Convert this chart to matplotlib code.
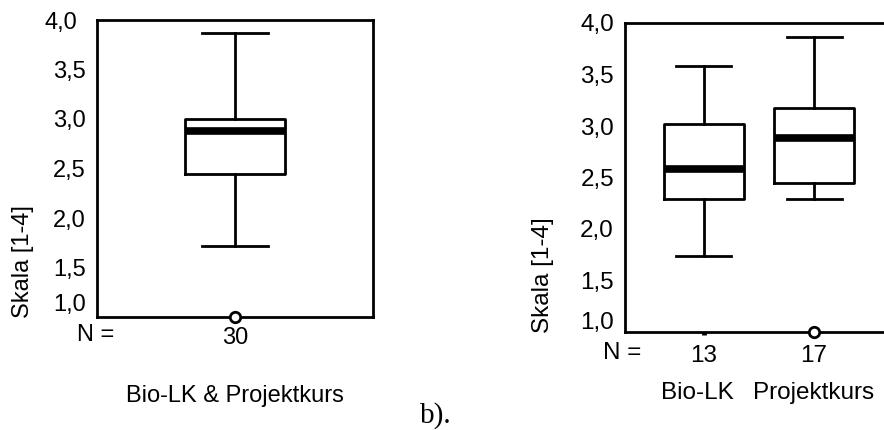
import matplotlib
matplotlib.use('Agg')
import matplotlib.pyplot as plt
import matplotlib.transforms as mtransforms

plt.rcParams['font.family'] = ['Liberation Sans', 'DejaVu Sans']

# Daten: linker Plot (a)
a_labels = ['Bio-LK & Projektkurs']
a_n = [30]
a_med = [2.88]
a_q1 = [2.44]
a_q3 = [3.00]
a_lo = [1.72]
a_hi = [3.87]
a_fliers = [[1.0]]

# Daten: rechter Plot (b)
b_labels = ['Bio-LK', 'Projektkurs']
b_n = [13, 17]
b_med = [2.58, 2.88]
b_q1 = [2.29, 2.45]
b_q3 = [3.02, 3.17]
b_lo = [1.74, 2.29]
b_hi = [3.58, 3.86]
b_fliers = [[], [1.0]]

yticks = [1.0, 1.5, 2.0, 2.5, 3.0, 3.5, 4.0]
ytick_labels = ['1,0', '1,5', '2,0', '2,5', '3,0', '3,5', '4,0']


def make_stats(med, q1, q3, lo, hi, fliers):
    return [dict(med=m, q1=a, q3=b, whislo=l, whishi=h, fliers=f)
            for m, a, b, l, h, f in zip(med, q1, q3, lo, hi, fliers)]


def shift_label(ax, lab, dx, dy):
    off = mtransforms.ScaledTranslation(dx / 100, dy / 100, ax.figure.dpi_scale_trans)
    lab.set_transform(lab.get_transform() + off)


def draw(ax, stats, positions, width, capwidth, ns, fs, xpad, lab10_shift):
    ax.bxp(stats, positions=positions, widths=width, capwidths=capwidth,
           showfliers=True,
           boxprops=dict(color='k', linewidth=2),
           whiskerprops=dict(color='k', linewidth=2),
           capprops=dict(color='k', linewidth=2),
           medianprops=dict(color='k', linewidth=5.5, solid_capstyle='butt'),
           flierprops=dict(marker='o', markerfacecolor='white', markeredgecolor='k',
                           markersize=7.5, markeredgewidth=2))
    for line in ax.lines:
        if line.get_marker() == 'o':
            line.set_clip_on(False)
            line.set_zorder(5)
    ax.set_ylim(1.0, 4.0)
    ax.set_yticks(yticks)
    ax.set_yticklabels(ytick_labels, fontsize=fs)
    ax.tick_params(axis='y', length=0, pad=8)
    ax.set_xticks(positions)
    ax.set_xticklabels([str(n) for n in ns], fontsize=fs)
    ax.tick_params(axis='x', length=2.5, width=3.5, pad=xpad, direction='out')
    for s in ax.spines.values():
        s.set_linewidth(2)
    # Beschriftung "1,0" leicht nach oben versetzt
    shift_label(ax, ax.get_yticklabels()[0], 0, lab10_shift)


fig = plt.figure(figsize=(8.84, 4.30), dpi=100)

ax1 = fig.add_axes([97 / 884, 1 - 317 / 430, 276 / 884, 297 / 430])
draw(ax1, make_stats(a_med, a_q1, a_q3, a_lo, a_hi, a_fliers), [1], 0.36, 0.24,
     a_n, 17, 4.5, 14)
shift_label(ax1, ax1.get_yticklabels()[-1], -9, 0)
ax1.set_xlim(0.5, 1.5)
ax1.text(-0.004, -0.062, 'N =', transform=ax1.transAxes, ha='center', va='center', fontsize=17)
ax1.text(1, -0.265, a_labels[0], transform=ax1.get_xaxis_transform(),
         ha='center', va='center', fontsize=17)
fig.text(23 / 884, 1 - 318 / 430, 'Skala [1-4]', rotation=90, ha='center', va='bottom', fontsize=17)

ax2 = fig.add_axes([625 / 884, 1 - 332 / 430, 268 / 884, 309 / 430])
draw(ax2, make_stats(b_med, b_q1, b_q3, b_lo, b_hi, b_fliers), [1, 2], 0.73, 0.5,
     b_n, 17.5, 6.5, 11)
ax2.set_xlim(0.282, 2.718)
ax2.text(-0.01, -0.068, 'N =', transform=ax2.transAxes, ha='center', va='center', fontsize=17.5)
for pos, lab in zip([0.94, 2], b_labels):
    ax2.text(pos, -0.197, lab, transform=ax2.get_xaxis_transform(),
             ha='center', va='center', fontsize=17.5)
fig.text(543 / 884, 1 - 333 / 430, 'Skala [1-4]', rotation=90, ha='center', va='bottom', fontsize=17.5)

fig.text(436 / 884, 1 - 423 / 430, 'b).', ha='center', va='baseline', fontsize=21,
         family=['Liberation Serif', 'DejaVu Serif'])

fig.savefig('out.png', dpi=100, facecolor='white')
